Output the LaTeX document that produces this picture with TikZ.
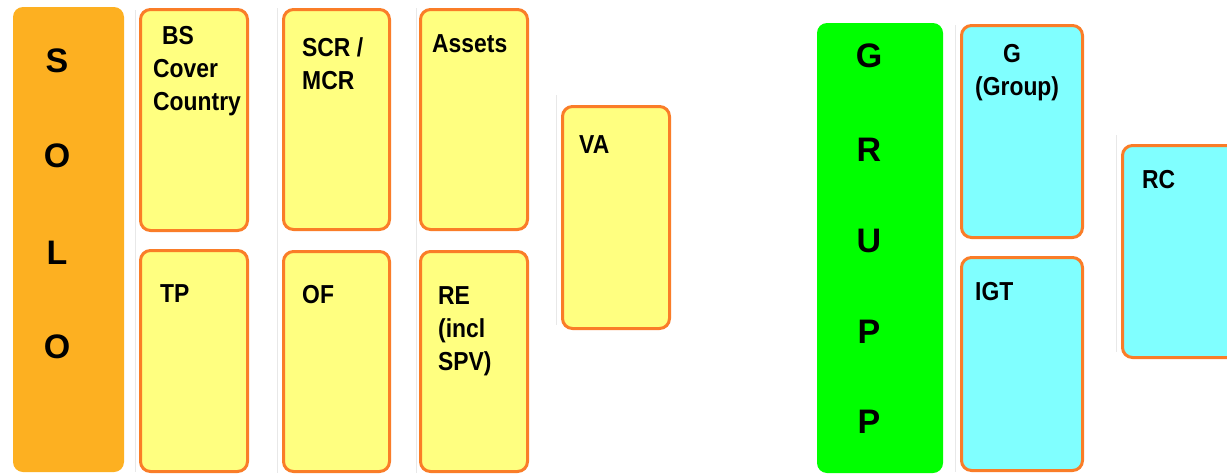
\documentclass[tikz,border=0pt]{standalone}
\usepackage{fontspec}
\setmainfont{Liberation Sans}[FakeStretch=0.88]
\newfontfamily\letterfont{Liberation Sans}
\definecolor{soloorange}{RGB}{253,176,33}
\definecolor{boxyellow}{RGB}{255,255,128}
\definecolor{boxedge}{RGB}{250,125,40}
\definecolor{grpgreen}{RGB}{0,255,0}
\definecolor{boxcyan}{RGB}{128,255,255}
\definecolor{faint}{RGB}{232,232,232}
\begin{document}
\begin{tikzpicture}[x=1pt,y=-1pt,
  colbar/.style={rectangle, rounded corners=10pt, inner sep=0pt, outer sep=0pt},
  ybox/.style={rectangle, rounded corners=10pt, draw=boxedge, line width=3pt, fill=boxyellow, inner sep=0pt, outer sep=0pt},
  cbox/.style={ybox, fill=boxcyan},
  txt/.style={anchor=base west, align=left, inner sep=0pt, font=\fontsize{26}{33}\selectfont\bfseries},
  letter/.style={anchor=base, inner sep=0pt, font=\letterfont\fontsize{34}{40}\selectfont\bfseries},
  shade/.style={draw=faint, line width=1pt}]
\useasboundingbox (0,0) rectangle (1227,474);
\clip (0,0) rectangle (1227,474);
\fill[white] (0,0) rectangle (1227,474);
% faint guide lines
\draw[shade] (135,10) -- (135,472);
\draw[shade] (277,8) -- (277,473);
\draw[shade] (416,8) -- (416,473);
\draw[shade] (556,95) -- (556,325);
\draw[shade] (955,25) -- (955,472);
\draw[shade] (1116,135) -- (1116,352);
% SOLO column
\node[colbar, fill=soloorange, minimum width=111pt, minimum height=465pt] (solo) at (68.5,239.5) {};
\node[letter] (s1) at (57,72) {S};
\node[letter] (s2) at (57,167) {O};
\node[letter] (s3) at (57,264) {L};
\node[letter] (s4) at (57,358) {O};
% yellow boxes
\node[ybox, minimum width=107pt, minimum height=221pt] (bs) at (194,120) {};
\node[ybox, minimum width=107pt, minimum height=221pt] (tp) at (194,361) {};
\node[ybox, minimum width=106pt, minimum height=220pt] (scr) at (336.5,119.5) {};
\node[ybox, minimum width=106pt, minimum height=220pt] (of) at (336.5,361.5) {};
\node[ybox, minimum width=107pt, minimum height=220pt] (assets) at (474,119.5) {};
\node[ybox, minimum width=107pt, minimum height=220pt] (re) at (474,361.5) {};
\node[ybox, minimum width=107pt, minimum height=222pt] (va) at (616,217.5) {};
\node[txt] (bst) at (153,110) {\hspace*{9pt}BS\\Cover\\Country};
\node[txt] (tpt) at (160,302) {TP};
\node[txt] (scrt) at (302,89) {SCR /\\MCR};
\node[txt] (oft) at (302,303) {OF};
\node[txt] (assetst) at (432,52) {Assets};
\node[txt] (ret) at (438,370) {RE\\(incl\\SPV)};
\node[txt] (vat) at (579,153) {VA};
% GRUPP column
\node[colbar, fill=grpgreen, minimum width=126pt, minimum height=450pt] (grupp) at (880,248) {};
\node[letter] (g1) at (869,67) {G};
\node[letter] (g2) at (869,161) {R};
\node[letter] (g3) at (869,252) {U};
\node[letter] (g4) at (869,343) {P};
\node[letter] (g5) at (869,433) {P};
% cyan boxes
\node[cbox, minimum width=121pt, minimum height=212pt] (g) at (1022,131.5) {};
\node[cbox, minimum width=121pt, minimum height=213pt] (igt) at (1022,364) {};
\node[cbox, minimum width=121pt, minimum height=212pt] (rc) at (1183,251.5) {};
\node[txt] (gt) at (975,95) {\hspace*{28pt}G\\(Group)};
\node[txt] (igtt) at (975,300) {IGT};
\node[txt] (rct) at (1142,188) {RC};
\end{tikzpicture}
\end{document}
